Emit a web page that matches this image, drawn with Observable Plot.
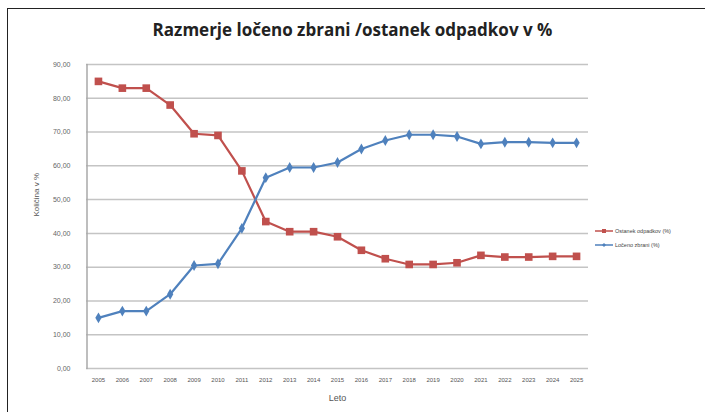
<!DOCTYPE html>
<html>
<head>
<meta charset="utf-8">
<script src="https://cdn.jsdelivr.net/npm/d3@7"></script>
<script src="https://cdn.jsdelivr.net/npm/@observablehq/plot@0.6"></script>
<style>
  html, body { margin: 0; padding: 0; background: #fff; }
  #wrap { position: relative; width: 705px; height: 412px; overflow: hidden; background: #fff; }
  #frame { position: absolute; left: 7px; top: 8px; width: 710px; height: 420px; border-left: 1.5px solid #222; border-top: 1.5px solid #222; box-sizing: border-box; pointer-events: none; }
  #title { position: absolute; left: 0; top: 18px; width: 705px; text-align: center; font-family: "Open Sans", "Liberation Sans", sans-serif; font-weight: bold; font-size: 17px; color: #222; }
  #legend { position: absolute; left: 595px; top: 224px; font-family: "Liberation Sans", sans-serif; font-size: 5.5px; color: #444; }
  #legend div { display: flex; align-items: center; height: 14px; }
  #legend svg { margin-right: 2px; }
  #chart { position: absolute; left: 0; top: 0; }
</style>
</head>
<body>
<div id="wrap">
  <div id="chart"></div>
  <div id="frame"></div>
  <div id="title">Razmerje ločeno zbrani /ostanek odpadkov v %</div>
  <div id="legend"></div>
</div>
<script>
const years = [2005,2006,2007,2008,2009,2010,2011,2012,2013,2014,2015,2016,2017,2018,2019,2020,2021,2022,2023,2024,2025];
const ostanek = [85,83,83,78,69.5,69,58.5,43.5,40.5,40.5,39,35,32.5,30.8,30.8,31.3,33.5,33,33,33.2,33.2];
const loceno = [15,17,17,22,30.5,31,41.5,56.5,59.5,59.5,61,65,67.5,69.2,69.2,68.7,66.5,67,67,66.8,66.8];
const yTicks = [0,10,20,30,40,50,60,70,80,90];
const seriesNames = ["Ostanek odpadkov (%)", "Ločeno zbrani (%)"];
const seriesColors = ["#C0504D", "#4F81BD"];

const redData = years.map((y, i) => ({year: y, value: ostanek[i]}));
const blueData = years.map((y, i) => ({year: y, value: loceno[i]}));
const fmt = v => v.toFixed(2).replace(".", ",");

const xMin = years[0] - 0.5, xMax = years[years.length - 1] + 0.5;
const edge = [{x: xMin, y: yTicks[0]}, {x: xMin, y: yTicks[yTicks.length - 1]}];

const chart = Plot.plot({
  width: 705,
  height: 412,
  marginLeft: 86,
  marginRight: 117,
  marginTop: 64,
  marginBottom: 44,
  style: {background: "transparent", fontFamily: "Liberation Sans, sans-serif", overflow: "visible"},
  x: {type: "linear", domain: [xMin, xMax], label: null},
  y: {domain: [0, 90], label: null},
  marks: [
    Plot.gridY(yTicks, {stroke: "#c4c4c4", strokeOpacity: 1, strokeWidth: 1.5}),
    Plot.line(edge, {x: "x", y: "y", stroke: "#a8a8a8", strokeWidth: 1.5, dx: 0.5}),
    Plot.axisY(yTicks, {tickFormat: fmt, tickSize: 0, tickPadding: 16, fontSize: 7, fill: "#666"}),
    Plot.axisX(years, {tickFormat: d => String(d), tickSize: 0, tickPadding: 9, fontSize: 6, fill: "#555"}),
    Plot.text(["Količina v %"], {frameAnchor: "left", rotate: -90, dx: -50, fontSize: 8, fill: "#555"}),
    Plot.text(["Leto"], {frameAnchor: "bottom", dy: 32, fontSize: 9, fill: "#555"}),
    Plot.lineY(redData, {x: "year", y: "value", stroke: seriesColors[0], strokeWidth: 2.2}),
    Plot.dot(redData, {x: "year", y: "value", symbol: "square", r: 4.3, fill: seriesColors[0], stroke: "none"}),
    Plot.lineY(blueData, {x: "year", y: "value", stroke: seriesColors[1], strokeWidth: 2.2}),
    Plot.dot(blueData, {x: "year", y: "value", symbol: "diamond", r: 3.3, fill: seriesColors[1], stroke: "none"})
  ]
});
document.getElementById("chart").appendChild(chart);

const legend = document.getElementById("legend");
seriesNames.forEach((name, i) => {
  const row = document.createElement("div");
  const marker = i === 0
    ? `<rect x="7" y="2" width="4" height="4" fill="${seriesColors[i]}"/>`
    : `<path d="M9 2 L11 4 L9 6 L7 4 Z" fill="${seriesColors[i]}"/>`;
  row.innerHTML = `<svg width="18" height="8"><line x1="0" x2="18" y1="4" y2="4" stroke="${seriesColors[i]}" stroke-width="1.5"/>${marker}</svg><span>${name}</span>`;
  legend.appendChild(row);
});
</script>
</body>
</html>
